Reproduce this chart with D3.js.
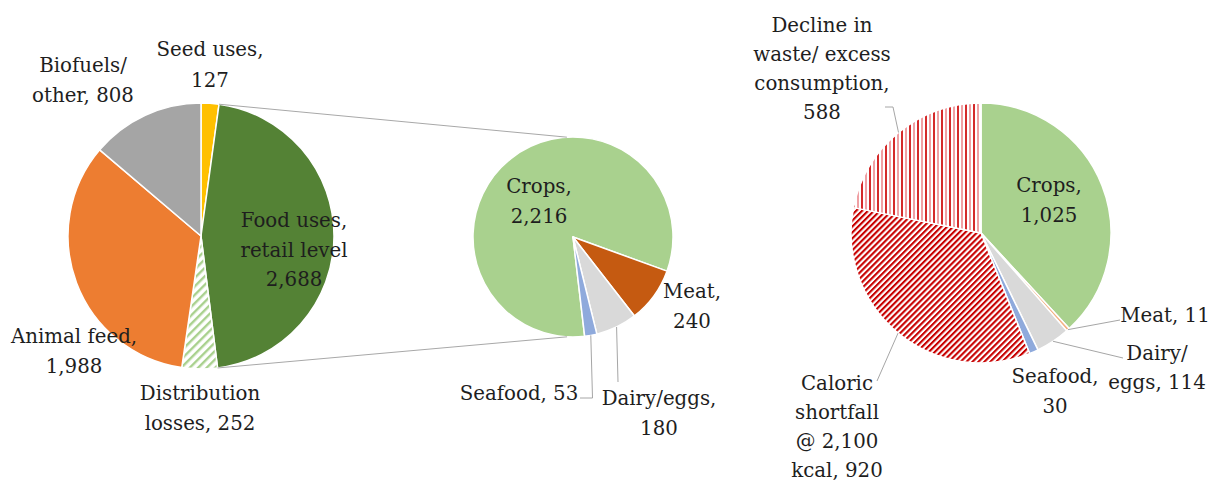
<!DOCTYPE html>
<html><head><meta charset="utf-8">
<script src="https://cdn.jsdelivr.net/npm/d3@7"></script>
<style>
html,body{margin:0;padding:0;background:#fff;}
text{font-family:"DejaVu Serif",serif;font-size:19.8px;fill:#1e1e1e;}
</style></head>
<body><svg id="c" width="1211" height="483"></svg>
<script>
// ---------- DATA ----------
const leftCats   = ["Seed uses", "Food uses, retail level", "Distribution losses", "Animal feed", "Biofuels/ other"];
const leftVals   = [127, 2688, 252, 1988, 808];
const midCats    = ["Crops", "Meat", "Dairy/eggs", "Seafood"];
const midVals    = [2216, 240, 180, 53];
const rightCats  = ["Crops", "Meat", "Dairy/ eggs", "Seafood", "Caloric shortfall @ 2,100 kcal", "Decline in waste/ excess consumption"];
const rightVals  = [1025, 11, 114, 30, 920, 588];

// ---------- STYLE / LAYOUT ----------
const leftColors  = ["#ffc000", "#548235", "url(#hGreen)", "#ed7d31", "#a5a5a5"];
const midColors   = ["#a9d18e", "#c55a11", "#d9d9d9", "#8faadc"];
const rightColors = ["#a9d18e", "#f4b183", "#d9d9d9", "#8faadc", "url(#hRed)", "url(#vRed)"];

const svg = d3.select("#c");
const defs = svg.append("defs");
function diag(id, color, size, w){
  const p = defs.append("pattern").attr("id", id).attr("patternUnits","userSpaceOnUse")
    .attr("width", size).attr("height", size).attr("patternTransform","rotate(45)");
  p.append("rect").attr("width", size).attr("height", size).attr("fill","#fff");
  p.append("rect").attr("width", w).attr("height", size).attr("fill", color);
}
diag("hGreen", "#a9d18e", 6, 2.4);
diag("hRed", "#c80000", 4.2, 2.1);
{
  const p = defs.append("pattern").attr("id","vRed").attr("patternUnits","userSpaceOnUse")
    .attr("width", 8).attr("height", 8);
  p.append("rect").attr("width", 8).attr("height", 8).attr("fill","#fff");
  p.append("rect").attr("x",0).attr("width", 2).attr("height", 8).attr("fill","#d42a2a");
  p.append("rect").attr("x",4).attr("width", 2).attr("height", 8).attr("fill","#f0a0a4");
}

const deg = Math.PI/180;
const pies = {
  left:  {cx:201, cy:236, r:133, start:0},
  mid:   {cx:573, cy:237, r:100, start:173.3},
  right: {cx:981, cy:233, r:130, start:0}
};

function drawPie(cfg, vals, colors){
  const g = svg.append("g").attr("transform", `translate(${cfg.cx},${cfg.cy})`);
  const arcs = d3.pie().sort(null).value(d=>d)
      .startAngle(cfg.start*deg).endAngle((cfg.start+360)*deg)(vals);
  const arc = d3.arc().innerRadius(0).outerRadius(cfg.r);
  g.selectAll("path").data(arcs).join("path")
    .attr("d", arc).attr("fill", (d,i)=>colors[i])
    .attr("stroke","#fff").attr("stroke-width",1.5).attr("stroke-linejoin","round");
  return arcs;
}
function edgePoint(cfg, a){ return [cfg.cx + cfg.r*Math.sin(a), cfg.cy - cfg.r*Math.cos(a)]; }

const la = drawPie(pies.left, leftVals, leftColors);
const ma = drawPie(pies.mid, midVals, midColors);
const ra = drawPie(pies.right, rightVals, rightColors);

// connectors left -> middle (from the food-use slice edges)
const food = la[1];
const connTop = [edgePoint(pies.left, food.startAngle), edgePoint(pies.mid, -3.5*deg)];
const connBot = [edgePoint(pies.left, food.endAngle), edgePoint(pies.mid, 183.4*deg)];
[connTop, connBot].forEach(pts=>{
  svg.append("path").attr("d", d3.line()(pts)).attr("fill","none")
    .attr("stroke","#a8a8a8").attr("stroke-width",1);
});

// leaders: [pie, arcs, index, elbow points]
const mid = d=> (d.startAngle+d.endAngle)/2;
const leaders = [
  [pies.mid, ma, 3, [[592.5,398],[580,398]]],
  [pies.mid, ma, 2, [[618,382]]],
  [pies.right, ra, 1, [[1120,320]]],
  [pies.right, ra, 2, [[1123,358]]],
  [pies.right, ra, 4, [[877,381]]],
  [pies.right, ra, 5, [[893,107],[885,107]]]
];
leaders.forEach(([cfg, arcs, i, pts])=>{
  const p0 = edgePoint(cfg, mid(arcs[i]));
  svg.append("path").attr("d", d3.line()([p0, ...pts])).attr("fill","none")
    .attr("stroke","#a6a6a6").attr("stroke-width",1);
});

// labels: text lines, centre x, first baseline, line step
const labels = [
  [["Seed uses,", "127"], 210, 56, 31],
  [["Biofuels/", "other, 808"], 83, 72, 30],
  [["Food uses,", "retail level", "2,688"], 294, 227, 29.5],
  [["Animal feed,", "1,988"], 74, 343, 30],
  [["Distribution", "losses, 252"], 200, 400, 30],
  [["Crops,", "2,216"], 539, 193, 30],
  [["Meat,", "240"], 692, 298, 30],
  [["Seafood, 53"], 519, 400, 30],
  [["Dairy/eggs,", "180"], 659, 405, 30],
  [["Decline in", "waste/ excess", "consumption,", "588"], 822, 32, 29],
  [["Crops,", "1,025"], 1049, 192, 30],
  [["Meat, 11"], 1165, 322, 30],
  [["Dairy/", "eggs, 114"], 1157, 360, 28.5],
  [["Seafood,", "30"], 1055, 383, 30],
  [["Caloric", "shortfall", "@ 2,100", "kcal, 920"], 837, 390, 29]
];
labels.forEach(([lines, x, y, step])=>{
  const t = svg.append("text").attr("text-anchor","middle");
  lines.forEach((s,k)=> t.append("tspan").attr("x", x).attr("y", y + k*step).text(s));
});
</script></body></html>
